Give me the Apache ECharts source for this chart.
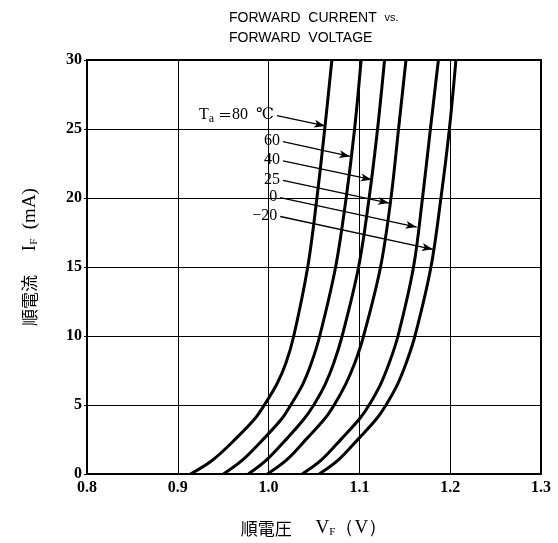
<!DOCTYPE html>
<html>
<head>
<meta charset="utf-8">
<script src="https://cdn.jsdelivr.net/npm/echarts@6/dist/echarts.min.js"></script>
<style>
html,body{margin:0;padding:0;background:#fff;}
#c{width:558px;height:543px;}
</style>
</head>
<body>
<div id="c"></div>
<script>
// Forward current (mA) sample levels shared by all curves
const currents = [0, 1, 2.6, 4, 5, 6.5, 8, 10, 15, 20, 25, 30];
// Forward voltage (V) read at each current level, per ambient temperature
const vf80  = [0.9140, 0.9381, 0.9645, 0.9848, 0.9953, 1.0090, 1.0189, 1.0277, 1.0431, 1.0532, 1.0618, 1.0697];
const vf60  = [0.9502, 0.9711, 0.9953, 1.0145, 1.0244, 1.0376, 1.0469, 1.0563, 1.0738, 1.0854, 1.0947, 1.1019];
const vf40  = [0.9777, 0.9975, 1.0206, 1.0392, 1.0497, 1.0623, 1.0716, 1.0810, 1.0991, 1.1107, 1.1200, 1.1277];
const vf25  = [0.9986, 1.0195, 1.0425, 1.0618, 1.0722, 1.0848, 1.0947, 1.1046, 1.1233, 1.1348, 1.1431, 1.1513];
const vf0   = [1.0370, 1.0579, 1.0810, 1.1002, 1.1107, 1.1233, 1.1326, 1.1425, 1.1596, 1.1695, 1.1782, 1.1870];
const vfm20 = [1.0557, 1.0766, 1.0997, 1.1189, 1.1293, 1.1420, 1.1513, 1.1612, 1.1788, 1.1898, 1.1991, 1.2063];
const curveNames = ['80', '60', '40', '25', '0', '-20'];
const curveVals = [vf80, vf60, vf40, vf25, vf0, vfm20];
// Annotation leaders: label, start [V, mA], end [V, mA]
const leaderLabels = ['{n|T}{s|a} {e|＝}{n|80  ℃}', '60', '40', '25', '0', '−20'];
const leaderStart = [[1.0092, 25.97], [1.0158, 24.08], [1.0158, 22.69], [1.0158, 21.27], [1.0128, 20.03], [1.0128, 18.66]];
const leaderEnd   = [[1.0623, 25.22], [1.0898, 23.01], [1.1136, 21.33], [1.1326, 19.63], [1.1631, 17.89], [1.1810, 16.28]];

const serif = "'Liberation Serif', 'DejaVu Serif', serif";
const sans = "'Liberation Sans', sans-serif";
const cjk = "'Noto Sans CJK JP', sans-serif";

const chart = echarts.init(document.getElementById('c'));

const series = curveVals.map((vals, i) => ({
  name: curveNames[i],
  type: 'line',
  data: vals.map((v, k) => [v, currents[k]]),
  smooth: 0.35,
  showSymbol: false,
  symbol: 'none',
  lineStyle: { color: '#000', width: 3 },
  z: 3,
  silent: true
}));

series[0].markLine = {
  silent: true,
  symbol: ['none', 'arrow'],
  symbolSize: [6, 11],
  animation: false,
  lineStyle: { color: '#000', width: 1.3, type: 'solid' },
  label: {
    show: true,
    position: 'start',
    distance: 3,
    color: '#000',
    fontFamily: serif,
    fontSize: 16,
    rich: {
      n: { fontFamily: serif, fontSize: 16, color: '#000' },
      e: { fontFamily: cjk, fontSize: 14, color: '#000' },
      s: { fontFamily: serif, fontSize: 12, color: '#000', verticalAlign: 'bottom', padding: [8, 0, 0, 0] }
    }
  },
  data: leaderLabels.map((lab, i) => [
    { coord: leaderStart[i], label: { formatter: lab } },
    { coord: leaderEnd[i] }
  ])
};

const nameRich = {
  c: { fontFamily: cjk, fontSize: 17, color: '#000' },
  n: { fontFamily: serif, fontSize: 19, color: '#000' },
  s: { fontFamily: serif, fontSize: 11, color: '#000', verticalAlign: 'bottom', padding: [7, 0, 0, 0] }
};

chart.setOption({
  animation: false,
  backgroundColor: '#fff',
  title: {
    text: '{a|FORWARD  CURRENT  }{b|vs.}\n{a|FORWARD  VOLTAGE}',
    left: 224,
    top: 3,
    textStyle: {
      fontWeight: 'normal',
      rich: {
        a: { fontFamily: sans, fontSize: 14, fontWeight: 'normal', color: '#000', lineHeight: 20 },
        b: { fontFamily: sans, fontSize: 11, fontWeight: 'normal', color: '#000', lineHeight: 20 }
      }
    }
  },
  grid: { left: 87, right: 17, top: 60, bottom: 67, show: true, borderColor: '#000', borderWidth: 2, containLabel: false },
  graphic: [
    {
      type: 'text',
      x: 30, y: 257,
      rotation: Math.PI / 2,
      style: {
        text: '{c|順電流}{n|　 I}{s|F}{n|  (mA)}',
        align: 'center',
        verticalAlign: 'middle',
        rich: nameRich
      }
    }
  ],
  xAxis: {
    type: 'value',
    min: 0.8, max: 1.3, interval: 0.1,
    axisLine: { show: true, lineStyle: { color: '#000', width: 2 } },
    axisTick: { show: false },
    splitLine: { show: true, lineStyle: { color: '#000', width: 1 } },
    axisLabel: {
      color: '#000', fontFamily: serif, fontSize: 16, fontWeight: 'bold', margin: 6,
      formatter: v => (Math.round(v * 10) / 10).toFixed(1)
    },
    name: '{c|順電圧}{n|　 V}{s|F}{n|（V）}',
    nameLocation: 'middle',
    nameGap: 45,
    nameTextStyle: { rich: nameRich }
  },
  yAxis: {
    type: 'value',
    min: 0, max: 30, interval: 5,
    axisLine: { show: true, lineStyle: { color: '#000', width: 2 } },
    axisTick: { show: true, length: 3, lineStyle: { color: '#000', width: 1 } },
    splitLine: { show: true, lineStyle: { color: '#000', width: 1 } },
    axisLabel: { color: '#000', fontFamily: serif, fontSize: 16, fontWeight: 'bold', margin: 5 }
  },
  series: series
});
</script>
</body>
</html>
